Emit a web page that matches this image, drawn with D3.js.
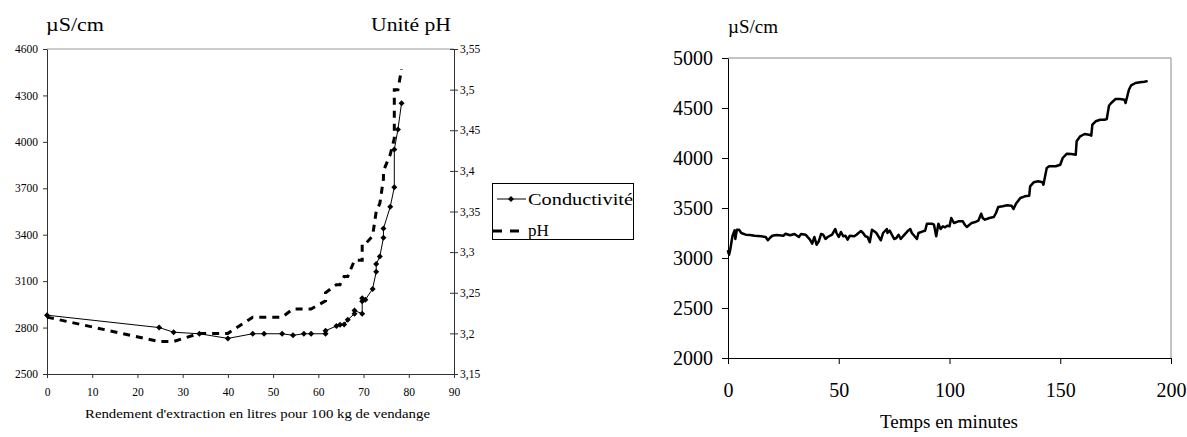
<!DOCTYPE html>
<html>
<head>
<meta charset="utf-8">
<script src="https://cdn.jsdelivr.net/npm/d3@7"></script>
<style>
  body { margin: 0; background: #fff; }
  svg { display: block; font-family: "Liberation Serif", "Times New Roman", serif; }
  text { font-family: "Liberation Serif", "Times New Roman", serif; fill: #000; }
</style>
</head>
<body>
<div id="svgContainer"></div>
<script>
// left chart : rendement d'extraction (x) vs conductivite / pH
var rendement = [0, 24.8, 28, 33.7, 40, 45.5, 48, 52, 54.4, 56.8, 58.4, 61.6, 61.6, 64, 64.8, 65.7, 66.5,
  68, 68, 69.7, 69.7, 69.7, 70.4, 72, 72.8, 72.8, 73.6, 74.4, 74.4, 75.9, 76.8, 76.8, 77.6, 78.4];
var conductivite = [2880, 2800, 2770, 2760, 2730, 2760, 2760, 2760, 2750, 2760, 2760, 2760, 2780, 2810, 2818, 2820, 2850,
  2890, 2910, 2890, 2970, 2990, 2980, 3050, 3160, 3210, 3260, 3380, 3440, 3580, 3707, 3950, 4080, 4250];
var ph = [3.22, 3.19, 3.19, 3.20, 3.20, 3.22, 3.22, 3.22, 3.23, 3.23, 3.23, 3.24, 3.25, 3.26, 3.26, 3.27, 3.27,
  3.29, 3.29, 3.29, 3.31, 3.31, 3.31, 3.32, 3.35, 3.35, 3.36, 3.39, 3.40, 3.42, 3.44, 3.50, 3.50, 3.525];
var leftXTicks = [0, 10, 20, 30, 40, 50, 60, 70, 80, 90];
var leftYTicks = [2500, 2800, 3100, 3400, 3700, 4000, 4300, 4600];
var phTicks = [3.15, 3.2, 3.25, 3.3, 3.35, 3.4, 3.45, 3.5, 3.55];

// right chart : conductivite vs temps
var temps = [0, 0.5, 1, 2, 3, 3.3, 4, 5, 6, 8, 10, 12, 15, 17, 18, 19, 20, 22, 25, 26, 28, 30, 32, 33, 35,
  37, 38, 39, 40, 41, 42, 43, 44, 45, 47, 48.4, 49, 50, 51, 52, 53, 54, 55, 57, 58, 60, 61, 62, 63, 64,
  65, 66, 67, 69, 70, 71.7, 72, 73, 75, 76, 77, 78, 79, 81, 82.3, 83, 85.3, 86, 88, 89, 89.8, 92, 93, 94,
  95, 96, 97, 98, 99, 100, 100.8, 102, 104, 106, 107, 107.8, 110, 112, 113, 114.3, 115, 116, 118, 120,
  121, 122, 124, 126, 128, 128.9, 130, 132, 134, 136, 136.4, 138, 140, 142, 142.4, 143.9, 145, 148, 150,
  151.1, 153, 155, 157, 157.4, 159, 161, 163, 164, 164.5, 166, 168, 170, 171, 172, 173, 175, 177, 179,
  179.5, 181, 182, 184, 186, 188, 189];
var conductiviteTemps = [3067, 3033, 3083, 3217, 3277, 3190, 3283, 3283, 3250, 3233, 3230, 3223, 3217, 3210,
  3177, 3203, 3223, 3230, 3223, 3243, 3227, 3240, 3210, 3240, 3233, 3183, 3143, 3210, 3133, 3167, 3240,
  3233, 3190, 3210, 3233, 3290, 3250, 3210, 3260, 3217, 3223, 3183, 3223, 3217, 3233, 3270, 3250, 3217,
  3210, 3157, 3283, 3267, 3250, 3177, 3250, 3290, 3250, 3273, 3190, 3200, 3233, 3190, 3217, 3267, 3290,
  3250, 3190, 3250, 3267, 3273, 3343, 3343, 3333, 3217, 3343, 3290, 3317, 3307, 3323, 3317, 3400, 3350,
  3367, 3367, 3330, 3310, 3350, 3363, 3373, 3443, 3400, 3383, 3400, 3410, 3450, 3510, 3517, 3527, 3523,
  3490, 3543, 3600, 3617, 3623, 3717, 3757, 3767, 3757, 3733, 3900, 3917, 3917, 3933, 4000, 4043, 4040,
  4033, 4167, 4217, 4240, 4233, 4223, 4333, 4367, 4383, 4383, 4390, 4523, 4550, 4590, 4590, 4583, 4550,
  4683, 4727, 4750, 4757, 4763, 4767];
var rightXTicks = [0, 50, 100, 150, 200];
var rightYTicks = [2000, 2500, 3000, 3500, 4000, 4500, 5000];

var svg = d3.select("#svgContainer").append("svg").attr("width", 1187).attr("height", 437);

// stretch a text to the width measured on the picture
function fit(sel, w) {
  sel.attr("textLength", w).attr("lengthAdjust", "spacingAndGlyphs");
}
function virgule(v) { return String(+v.toFixed(2)).replace(".", ","); }
var entier = d3.format("d");

// d3 axes set a sans-serif font on their group: drop it so the page font is used
function styleAxis(g, size, color) {
  g.attr("font-family", null).attr("font-size", null);
  g.selectAll("path, line").attr("stroke", color);
  g.selectAll("text").attr("fill", "#000").style("font-size", size + "px");
}

/* ---------- left chart ---------- */
var xL = d3.scaleLinear().domain([0, 90]).range([47, 454]);
var yL = d3.scaleLinear().domain([2500, 4600]).range([374, 49]);
var yPh = d3.scaleLinear().domain([3.15, 3.55]).range([374, 49]);

var left = svg.append("g");

left.append("line").attr("x1", xL(0)).attr("x2", xL(90)).attr("y1", yL(4600)).attr("y2", yL(4600))
  .attr("stroke", "#999");

var gxL = left.append("g").attr("transform", "translate(0," + yL(2500) + ")")
  .call(d3.axisBottom(xL).tickValues(leftXTicks).tickFormat(entier).tickSize(4).tickSizeOuter(0).tickPadding(10));
var gyL = left.append("g").attr("transform", "translate(" + xL(0) + ",0)")
  .call(d3.axisLeft(yL).tickValues(leftYTicks).tickFormat(entier).tickSize(4).tickSizeOuter(0).tickPadding(5));
var gyR = left.append("g").attr("transform", "translate(" + xL(90) + ",0)")
  .call(d3.axisRight(yPh).tickValues(phTicks).tickFormat(virgule).tickSize(4).tickSizeOuter(0).tickPadding(2));
gyR.selectAll(".tick").append("line").attr("x1", -4).attr("x2", 0);

[gxL, gyL, gyR].forEach(g => styleAxis(g, 11.5, "#333"));

// pH dashed
left.append("path")
  .attr("d", d3.line().x((d, i) => xL(rendement[i])).y(d => yPh(d))(ph))
  .attr("fill", "none").attr("stroke", "#000").attr("stroke-width", 3).attr("stroke-dasharray", "7,6");

// conductivite with diamonds
left.append("path")
  .attr("d", d3.line().x((d, i) => xL(rendement[i])).y(d => yL(d))(conductivite))
  .attr("fill", "none").attr("stroke", "#000").attr("stroke-width", 1);

var diamond = d3.symbol().type(d3.symbolSquare).size(18);
left.selectAll(".pt").data(conductivite).enter().append("path")
  .attr("class", "pt")
  .attr("d", diamond)
  .attr("transform", (d, i) => "translate(" + xL(rendement[i]) + "," + yL(d) + ") rotate(45)")
  .attr("fill", "#000");

left.append("text").attr("x", 46).attr("y", 31).style("font-size", "18px").text("µS/cm").call(fit, 58);
left.append("text").attr("x", 371).attr("y", 31).style("font-size", "18px").text("Unité pH").call(fit, 80);
left.append("text").attr("x", 85).attr("y", 418).style("font-size", "12.5px")
  .text("Rendement d'extraction en litres pour 100 kg de vendange").call(fit, 345);

// legend
var lg = left.append("g");
lg.append("rect").attr("x", 492.5).attr("y", 183.5).attr("width", 141).attr("height", 56)
  .attr("fill", "#fff").attr("stroke", "#000");
lg.append("line").attr("x1", 497).attr("x2", 526).attr("y1", 199).attr("y2", 199).attr("stroke", "#000");
lg.append("path").attr("d", diamond).attr("transform", "translate(511,199) rotate(45)");
lg.append("line").attr("x1", 493).attr("x2", 526).attr("y1", 231).attr("y2", 231)
  .attr("stroke", "#000").attr("stroke-width", 3).attr("stroke-dasharray", "9,8");
lg.append("text").attr("x", 528).attr("y", 205).style("font-size", "17px").text("Conductivité").call(fit, 105);
lg.append("text").attr("x", 528).attr("y", 236).style("font-size", "17px").text("pH");

/* ---------- right chart ---------- */
var xR = d3.scaleLinear().domain([0, 200]).range([728, 1171]);
var yR = d3.scaleLinear().domain([2000, 5000]).range([358, 58]);

var right = svg.append("g");

right.append("path")
  .attr("d", "M" + xR(0) + "," + yR(5000) + "H" + xR(200) + "V" + yR(2000))
  .attr("fill", "none").attr("stroke", "#888");

var gxR = right.append("g").attr("transform", "translate(0," + yR(2000) + ")")
  .call(d3.axisBottom(xR).tickValues(rightXTicks).tickFormat(entier).tickSize(6).tickSizeOuter(0).tickPadding(19));
var gyR2 = right.append("g").attr("transform", "translate(" + xR(0) + ",0)")
  .call(d3.axisLeft(yR).tickValues(rightYTicks).tickFormat(entier).tickSize(6).tickSizeOuter(0).tickPadding(9));
[gxR, gyR2].forEach(g => styleAxis(g, 20, "#000"));

right.append("path")
  .attr("d", d3.line().x((d, i) => xR(temps[i])).y(d => yR(d))(conductiviteTemps))
  .attr("fill", "none").attr("stroke", "#000").attr("stroke-width", 2.5)
  .attr("stroke-linejoin", "round").attr("stroke-linecap", "round");

right.append("text").attr("x", 728).attr("y", 33).style("font-size", "19px").text("µS/cm");
right.append("text").attr("x", 949).attr("y", 428).attr("text-anchor", "middle").style("font-size", "19px")
  .text("Temps en minutes");
</script>
</body>
</html>
